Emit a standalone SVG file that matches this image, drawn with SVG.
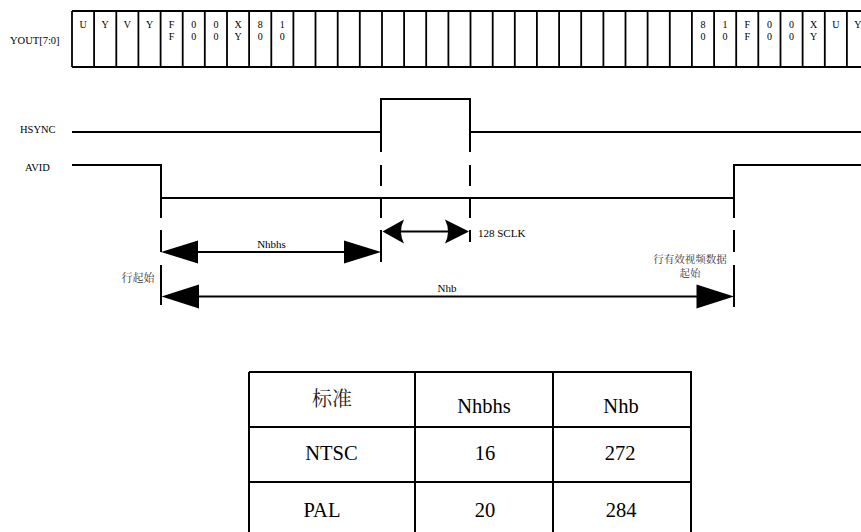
<svg xmlns="http://www.w3.org/2000/svg" width="861" height="532" viewBox="0 0 861 532">
<rect width="861" height="532" fill="#fff"/>

<g id="bus">
<text x="10" y="44" font-family="Liberation Serif" font-size="10.5" fill="#000">YOUT[7:0]</text>
<g fill="none" stroke="#000" stroke-width="2">
<line x1="72" y1="11" x2="861" y2="11"/>
<line x1="72" y1="67" x2="861" y2="67"/>
<path stroke-width="1.8" d="M72,11V67M94.1,11V67M116.3,11V67M138.4,11V67M160.6,11V67M182.7,11V67M204.8,11V67M227,11V67M249.1,11V67M271.3,11V67M293.4,11V67M315.5,11V67M337.7,11V67M359.8,11V67M382,11V67M404.1,11V67M426.2,11V67M448.4,11V67M470.5,11V67M492.7,11V67M514.8,11V67M536.9,11V67M559.1,11V67M581.2,11V67M603.4,11V67M625.5,11V67M647.6,11V67M669.8,11V67M691.9,11V67M714.1,11V67M736.2,11V67M758.3,11V67M780.5,11V67M802.6,11V67M824.8,11V67M846.9,11V67"/>
</g>
<text x="83" y="28" font-family="Liberation Serif" font-size="10" text-anchor="middle">U</text>
<text x="105.2" y="28" font-family="Liberation Serif" font-size="10" text-anchor="middle">Y</text>
<text x="127.3" y="28" font-family="Liberation Serif" font-size="10" text-anchor="middle">V</text>
<text x="149.5" y="28" font-family="Liberation Serif" font-size="10" text-anchor="middle">Y</text>
<text x="171.6" y="28" font-family="Liberation Serif" font-size="10" text-anchor="middle"><tspan x="171.6" y="28">F</tspan><tspan x="171.6" y="40">F</tspan></text>
<text x="193.8" y="28" font-family="Liberation Serif" font-size="10" text-anchor="middle"><tspan x="193.8" y="28">0</tspan><tspan x="193.8" y="40">0</tspan></text>
<text x="215.9" y="28" font-family="Liberation Serif" font-size="10" text-anchor="middle"><tspan x="215.9" y="28">0</tspan><tspan x="215.9" y="40">0</tspan></text>
<text x="238" y="28" font-family="Liberation Serif" font-size="10" text-anchor="middle"><tspan x="238" y="28">X</tspan><tspan x="238" y="40">Y</tspan></text>
<text x="260.2" y="28" font-family="Liberation Serif" font-size="10" text-anchor="middle"><tspan x="260.2" y="28">8</tspan><tspan x="260.2" y="40">0</tspan></text>
<text x="282.3" y="28" font-family="Liberation Serif" font-size="10" text-anchor="middle"><tspan x="282.3" y="28">1</tspan><tspan x="282.3" y="40">0</tspan></text>
<text x="703" y="28" font-family="Liberation Serif" font-size="10" text-anchor="middle"><tspan x="703" y="28">8</tspan><tspan x="703" y="40">0</tspan></text>
<text x="725.1" y="28" font-family="Liberation Serif" font-size="10" text-anchor="middle"><tspan x="725.1" y="28">1</tspan><tspan x="725.1" y="40">0</tspan></text>
<text x="747.2" y="28" font-family="Liberation Serif" font-size="10" text-anchor="middle"><tspan x="747.2" y="28">F</tspan><tspan x="747.2" y="40">F</tspan></text>
<text x="769.4" y="28" font-family="Liberation Serif" font-size="10" text-anchor="middle"><tspan x="769.4" y="28">0</tspan><tspan x="769.4" y="40">0</tspan></text>
<text x="791.5" y="28" font-family="Liberation Serif" font-size="10" text-anchor="middle"><tspan x="791.5" y="28">0</tspan><tspan x="791.5" y="40">0</tspan></text>
<text x="813.7" y="28" font-family="Liberation Serif" font-size="10" text-anchor="middle"><tspan x="813.7" y="28">X</tspan><tspan x="813.7" y="40">Y</tspan></text>
<text x="835.8" y="28" font-family="Liberation Serif" font-size="10" text-anchor="middle">U</text>
<text x="857.9" y="28" font-family="Liberation Serif" font-size="10" text-anchor="middle">Y</text>
</g>

<g id="hsync">
<text x="20" y="133" font-family="Liberation Serif" font-size="10.5" fill="#000">HSYNC</text>
<path fill="none" stroke="#000" stroke-width="2" d="M72,132H381V99H470V132H861"/>
</g>

<g id="avid">
<text x="25" y="171" font-family="Liberation Serif" font-size="10.5" fill="#000">AVID</text>
<path fill="none" stroke="#000" stroke-width="2" d="M72,165H161V198H734V165H861"/>
</g>

<g id="connectors">
<g fill="none" stroke="#000" stroke-width="2">
<path d="M161,198V218M161,230V252M161,265V305"/>
<path d="M381,132V152M381,165V186M381,198V218M381,230V262"/>
<path d="M470,132V152M470,165V186M470,198V218M470,230V242"/>
<path d="M734,198V218M734,230V252M734,265V307"/>
<line x1="195" y1="252" x2="347" y2="252"/>
<line x1="400" y1="231.5" x2="450" y2="231.5"/>
<line x1="195" y1="296.5" x2="700" y2="296.5"/>
</g>
<g fill="#000" stroke="none">
<path d="M161,252L198,240.5L198,263.5Z"/>
<path d="M381,252L344,240.5L344,263.5Z"/>
<path d="M382.5,231.5L404,219.5Q398,231.5 404,243.5Z"/>
<path d="M469,231.5L445,219.5Q451,231.5 445,243.5Z"/>
<path d="M161.5,296.5L199,284.5L199,308.5Z"/>
<path d="M734,296.5L696.5,284.5L696.5,308.5Z"/>
</g>
</g>

<g id="labels">
<text x="271.5" y="248" font-family="Liberation Serif" font-size="11" text-anchor="middle">Nhbhs</text>
<text x="478" y="236.5" font-family="Liberation Serif" font-size="11">128 SCLK</text>
<text x="447" y="292" font-family="Liberation Serif" font-size="11" text-anchor="middle">Nhb</text>
<text x="121.5" y="281.5" font-family="Noto Serif CJK SC" font-size="11" fill="#333">行起始</text>
<text x="690" y="262.5" font-family="Noto Serif CJK SC" font-size="10.5" fill="#333" text-anchor="middle"><tspan x="690" y="262.5">行有效视频数据</tspan><tspan x="690" y="276.5">起始</tspan></text>
</g>

<g id="table">
<path fill="none" stroke="#000" stroke-width="2" d="M249,372H691V540M249,372V540M415,372V540M553,372V540M249,427H691M249,482H691"/>
<text x="332" y="406" font-family="Noto Serif CJK SC" font-size="20" fill="#222" text-anchor="middle">标准</text>
<text x="484" y="412.5" font-family="Liberation Serif" font-size="20.5" text-anchor="middle">Nhbhs</text>
<text x="621" y="412.5" font-family="Liberation Serif" font-size="20.5" text-anchor="middle">Nhb</text>
<text x="331.5" y="460" font-family="Liberation Serif" font-size="20.5" text-anchor="middle">NTSC</text>
<text x="485" y="460" font-family="Liberation Serif" font-size="20.5" text-anchor="middle">16</text>
<text x="620" y="460" font-family="Liberation Serif" font-size="20.5" text-anchor="middle">272</text>
<text x="322" y="516.5" font-family="Liberation Serif" font-size="20.5" text-anchor="middle">PAL</text>
<text x="485" y="516.5" font-family="Liberation Serif" font-size="20.5" text-anchor="middle">20</text>
<text x="621" y="516.5" font-family="Liberation Serif" font-size="20.5" text-anchor="middle">284</text>
</g>
</svg>
